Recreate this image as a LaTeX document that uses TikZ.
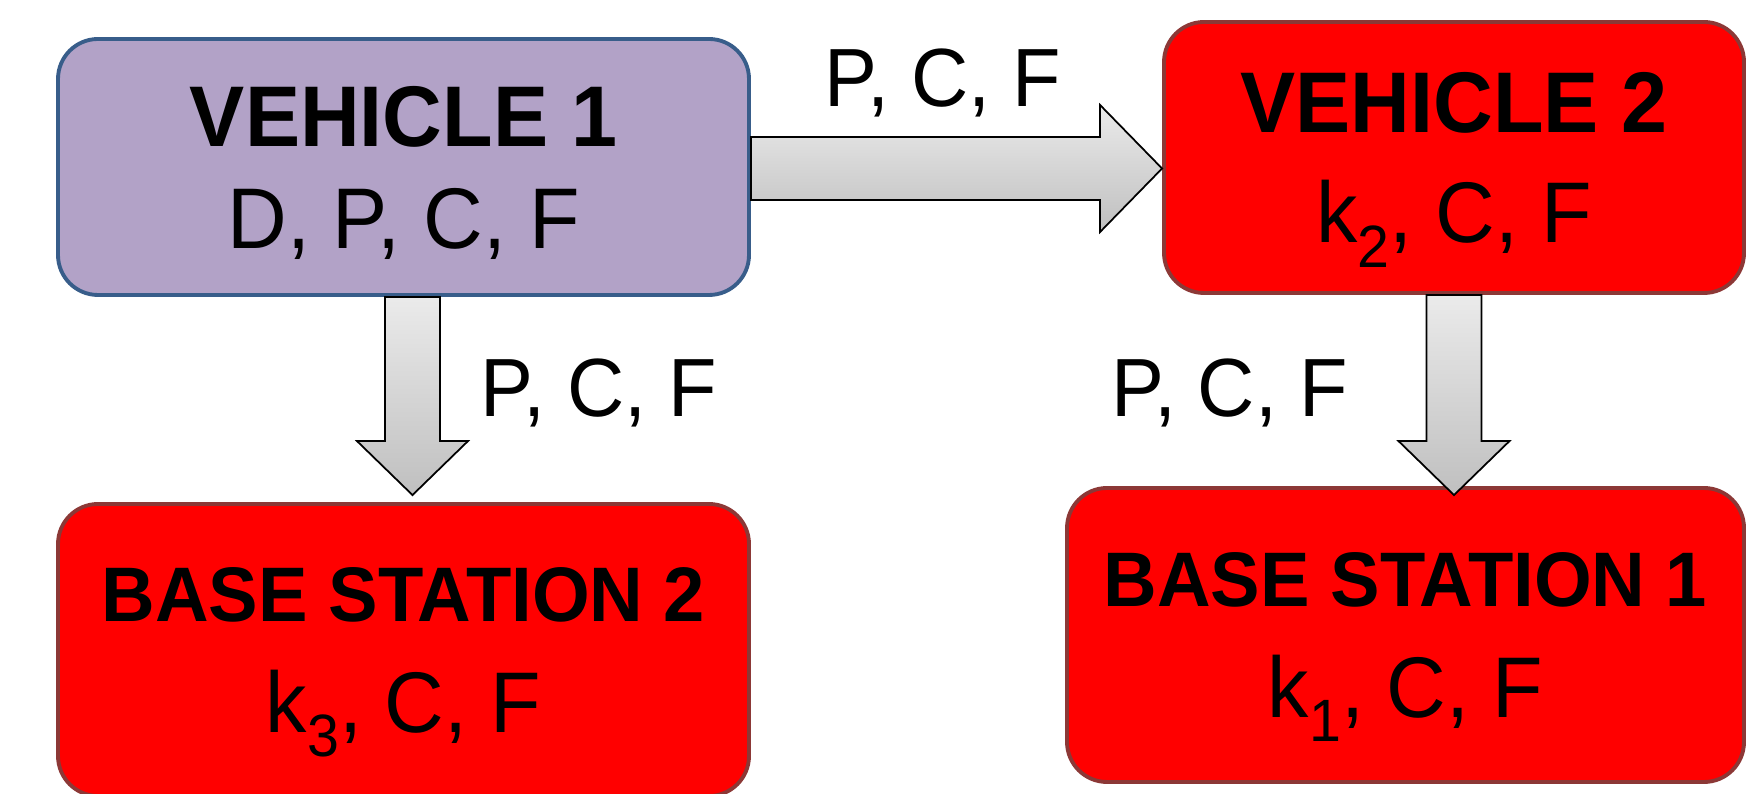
\documentclass[tikz,border=0pt]{standalone}
\usepackage{fontspec}
\setmainfont[FakeStretch=0.96]{Liberation Sans}
\usetikzlibrary{calc}

\definecolor{cVeh}{RGB}{178,162,199}
\definecolor{cVehLine}{RGB}{56,93,138}
\definecolor{cSta}{RGB}{255,0,0}
\definecolor{cStaLine}{RGB}{140,56,54}

% lowered index after k, smaller heading for the stations
\newcommand{\kidx}[1]{\raisebox{-7pt}{\fontsize{17}{17}\selectfont #1}}
\newcommand{\bsfont}{\fontsize{22}{25}\selectfont\bfseries}

\begin{document}
\begin{tikzpicture}[
  box/.style     = {draw, line width=1.1pt, rounded corners=4mm, align=center,
                    inner sep=0pt},
  vehicle/.style = {box, draw=cVehLine, fill=cVeh,
                    font=\fontsize{24.5}{29}\selectfont},
  station/.style = {box, draw=cStaLine, fill=cSta,
                    font=\fontsize{24.5}{31.5}\selectfont},
  lbl/.style     = {font=\fontsize{23.5}{29}\selectfont, anchor=base, inner sep=0pt},
  % block arrow: shaft half width, head half width, head length
  fat/.style n args = {3}{line width=0.5pt, draw=black,
                    top color=black!8, bottom color=black!25,
    to path={
      ($(\tikztostart)!#1!90:(\tikztotarget)$)
      -- ($(\tikztotarget)!#3!(\tikztostart)!#1!90:(\tikztotarget)$)
      -- ($(\tikztotarget)!#3!(\tikztostart)!#2!90:(\tikztotarget)$)
      -- (\tikztotarget)
      -- ($(\tikztotarget)!#3!(\tikztostart)!#2!-90:(\tikztotarget)$)
      -- ($(\tikztotarget)!#3!(\tikztostart)!#1!-90:(\tikztotarget)$)
      -- ($(\tikztostart)!#1!-90:(\tikztotarget)$) -- cycle}}
]
\useasboundingbox (0,0) rectangle (17.46,7.94);

% ------------------------------------------------------------------ boxes --
\node[vehicle, minimum width=69.1mm, minimum height=25.6mm] (v1) at (4.035,6.27)
  {{\bfseries VEHICLE 1}\\\smash{D, P, C, F}};
\node[station, minimum width=58mm, minimum height=27.1mm] (v2) at (14.54,6.365)
  {{\bfseries VEHICLE 2}\\\smash{k\kidx{2}, C, F}};
\node[station, minimum width=69.1mm, minimum height=29.2mm] (bs2) at (4.035,1.44)
  {{\bsfont BASE STATION 2}\\\smash{k\kidx{3}, C, F}};
\node[station, minimum width=67.7mm, minimum height=29.4mm] (bs1) at (14.055,1.59)
  {{\bsfont BASE STATION 1}\\\smash{k\kidx{1}, C, F}};

% ----------------------------------------------------------------- arrows --
\coordinate (s12) at ([yshift=-0.15mm]v1.east);
\coordinate (t12) at (s12 -| v2.west);
\draw[fat={3.15mm}{6.35mm}{6.2mm}] (s12) to (t12);

\coordinate (s13) at ([xshift=0.9mm]v1.south);
\coordinate[yshift=0.7mm] (t13) at (s13 |- bs2.north);
\draw[fat={2.75mm}{5.55mm}{5.4mm}] (s13) to (t13);

\coordinate[yshift=-0.9mm] (t24) at (v2.south |- bs1.north);
\draw[fat={2.75mm}{5.55mm}{5.4mm}] (v2.south) to (t24);

% ----------------------------------------------------------------- labels --
\node[lbl] (l12) at (9.43,6.87)   {P, C, F};
\node[lbl] (l13) at (5.99,3.77)   {P, C, F};
\node[lbl] (l24) at (12.295,3.77) {P, C, F};

\end{tikzpicture}
\end{document}
